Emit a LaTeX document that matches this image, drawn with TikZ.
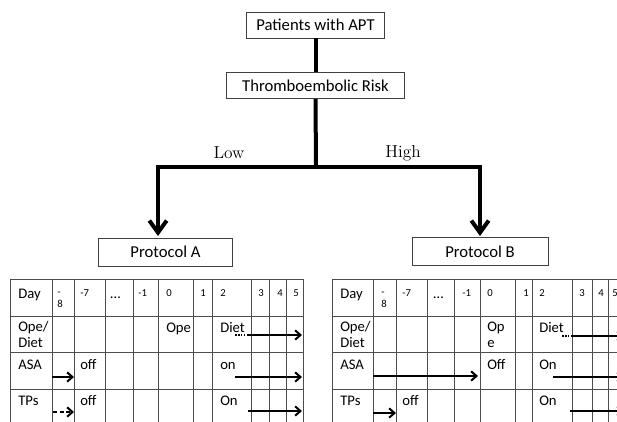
\documentclass[tikz,border=0pt]{standalone}
\usepackage{fontspec}
\newfontfamily\calfont{Carlito}
\usetikzlibrary{arrows.meta}

\begin{document}
\begin{tikzpicture}[x=0.75pt,y=-0.75pt,
	box/.style={draw=black!75,line width=0.6pt,rectangle,inner sep=0pt,font=\calfont\fontsize{12.5}{14}\selectfont},
	branch/.style={line width=3pt},
	branchtip/.style={branch,-{Straight Barb[length=9pt,width=13pt]}},
	cell/.style={anchor=base west,inner sep=0pt,align=left,font=\calfont\fontsize{11}{11.3}\selectfont},
	num/.style={anchor=base west,inner sep=0pt,align=left,font=\calfont\fontsize{8}{8.3}\selectfont},
	grid/.style={draw=black!70,line width=0.6pt},
	arr/.style={line width=1.5pt,-{Straight Barb[length=4pt,width=7pt]}},
	dots/.style={line width=1.5pt,dash pattern=on 1.2pt off 1pt}]
	\clip (0,0) rectangle (617,421);

	% decision tree
	\node (patients) [box,minimum width=103pt,minimum height=19.5pt] at (315.5,25) {Patients with APT};
	\node (risk)     [box,minimum width=134pt,minimum height=20pt] at (315.5,85.5) {Thromboembolic Risk};
	\node (protA)    [box,minimum width=101pt,minimum height=21pt] at (165.5,252) {Protocol A};
	\node (protB)    [box,minimum width=102pt,minimum height=20.5pt] at (480,251.5) {Protocol B};
	\coordinate (split)   at (316,167);
	\coordinate (lowEnd)  at (158,236);
	\coordinate (highEnd) at (480,236);
	\draw [branch] (patients.south) -- (risk.north);
	\draw [branch] (risk.south) -- (split);
	\draw [branchtip] (split) -| (lowEnd);
	\draw [branchtip] (split) -| (highEnd);
	\node (low)  at (229,153) {\fontsize{13}{15}\selectfont Low};
	\node (high) at (403,153) {\fontsize{13}{15}\selectfont High};

	% table of protocol A
	\draw [grid] (10,279) rectangle (303,426)
		(10,316) -- (303,316) (10,352) -- (303,352) (10,389) -- (303,389)
		(52,279) -- (52,426) (74,279) -- (74,426) (105,279) -- (105,426) (133,279) -- (133,426)
		(158,279) -- (158,426) (193,279) -- (193,426) (212,279) -- (212,426) (251,279) -- (251,426)
		(269,279) -- (269,426) (286,279) -- (286,426);
	\node (dayA)  [cell] at (18,298) {Day};
	\node (m8A)   [num]  at (57,307) {-\\8};
	\node (m7A)   [num]  at (80,296) {-7};
	\node (skipA) [cell] at (110,298) {…};
	\node (m1A)   [num]  at (138,296) {-1};
	\node (d0A)   [num]  at (166,296) {0};
	\node (d1A)   [num]  at (200,296) {1};
	\node (d2A)   [num]  at (220,296) {2};
	\node (d3A)   [num]  at (258,296) {3};
	\node (d4A)   [num]  at (277,296) {4};
	\node (d5A)   [num]  at (293,296) {5};
	\node (opeA)  [cell] at (18,347) {Ope/\\Diet};
	\node (opeA0) [cell] at (166,332) {Ope};
	\node (dietA) [cell] at (220,332) {Diet};
	\node (asaA)  [cell] at (18,369) {ASA};
	\node (asaAoff) [cell] at (80,369) {off};
	\node (asaAon)  [cell] at (220,369) {on};
	\node (tpsA)  [cell] at (18,405) {TPs};
	\node (tpsAoff) [cell] at (80,405) {off};
	\node (tpsAon)  [cell] at (220,405) {On};
	\coordinate (dietAdot) at (235,335);
	\coordinate (dietAbeg) at (247,335);
	\coordinate (dietAend) at (302,335);
	\coordinate (asaAbeg1) at (52,377);
	\coordinate (asaAend1) at (74,377);
	\coordinate (asaAbeg2) at (235,377);
	\coordinate (asaAend2) at (302,377);
	\coordinate (tpsAbeg1) at (53,412);
	\coordinate (tpsAend1) at (74,412);
	\coordinate (tpsAbeg2) at (248,411);
	\coordinate (tpsAend2) at (302,411);
	\draw [dots] (dietAdot) -- (dietAbeg);
	\draw [arr] (dietAbeg) -- (dietAend);
	\draw [arr] (asaAbeg1) -- (asaAend1);
	\draw [arr] (asaAbeg2) -- (asaAend2);
	\draw [arr,dash pattern=on 3pt off 2pt] (tpsAbeg1) -- (tpsAend1);
	\draw [arr] (tpsAbeg2) -- (tpsAend2);

	% table of protocol B
	\draw [grid] (332,279) rectangle (625,426)
		(332,316) -- (625,316) (332,352) -- (625,352) (332,389) -- (625,389)
		(373,279) -- (373,426) (396,279) -- (396,426) (427,279) -- (427,426) (454,279) -- (454,426)
		(480,279) -- (480,426) (515,279) -- (515,426) (532,279) -- (532,426) (572,279) -- (572,426)
		(592,279) -- (592,426) (608,279) -- (608,426);
	\node (dayB)  [cell] at (340,298) {Day};
	\node (m8B)   [num]  at (381,307) {-\\8};
	\node (m7B)   [num]  at (402,296) {-7};
	\node (skipB) [cell] at (433,298) {…};
	\node (m1B)   [num]  at (462,296) {-1};
	\node (d0B)   [num]  at (487,296) {0};
	\node (d1B)   [num]  at (523,296) {1};
	\node (d2B)   [num]  at (539,296) {2};
	\node (d3B)   [num]  at (579,296) {3};
	\node (d4B)   [num]  at (598,296) {4};
	\node (d5B)   [num]  at (612,296) {5};
	\node (opeB)  [cell] at (340,347) {Ope/\\Diet};
	\node (opeB0) [cell] at (487,347) {Op\\e};
	\node (dietB) [cell] at (539,332) {Diet};
	\node (asaB)  [cell] at (340,369) {ASA};
	\node (asaBoff) [cell] at (487,369) {Off};
	\node (asaBon)  [cell] at (539,369) {On};
	\node (tpsB)  [cell] at (340,405) {TPs};
	\node (tpsBoff) [cell] at (402,405) {off};
	\node (tpsBon)  [cell] at (539,405) {On};
	\coordinate (dietBdot) at (562,336);
	\coordinate (dietBbeg) at (571,336);
	\coordinate (dietBend) at (624,336);
	\coordinate (asaBbeg1) at (373,376);
	\coordinate (asaBend1) at (478,376);
	\coordinate (asaBbeg2) at (553,377);
	\coordinate (asaBend2) at (624,377);
	\coordinate (tpsBbeg1) at (373,413);
	\coordinate (tpsBend1) at (396,413);
	\coordinate (tpsBbeg2) at (570,411);
	\coordinate (tpsBend2) at (624,411);
	\draw [dots] (dietBdot) -- (dietBbeg);
	\draw [arr] (dietBbeg) -- (dietBend);
	\draw [arr] (asaBbeg1) -- (asaBend1);
	\draw [arr] (asaBbeg2) -- (asaBend2);
	\draw [arr] (tpsBbeg1) -- (tpsBend1);
	\draw [arr] (tpsBbeg2) -- (tpsBend2);
\end{tikzpicture}
\end{document}
